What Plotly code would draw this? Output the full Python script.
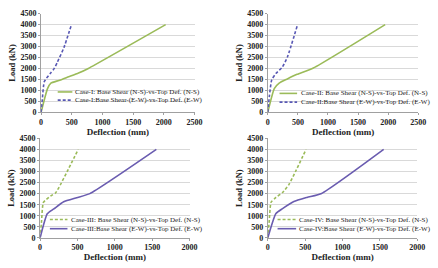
import plotly.graph_objects as go

# ---- data ----
p1_ns_x = [0, 105, 160, 290, 450, 610, 770, 2030]
p1_ns_y = [0, 1080, 1330, 1450, 1620, 1790, 2000, 4000]
p1_ew_x = [0, 20, 53, 149, 213, 266, 372, 495]
p1_ew_y = [0, 600, 1400, 1770, 1990, 2290, 2950, 4000]

p2_ns_x = [0, 108, 189, 325, 487, 757, 1950]
p2_ns_y = [0, 1080, 1330, 1520, 1730, 2020, 4000]
p2_ew_x = [0, 25, 65, 135, 243, 325, 495]
p2_ew_y = [0, 700, 1475, 1770, 2065, 2510, 4000]

p3_ns_x = [0, 20, 44, 140, 206, 271, 359, 510]
p3_ns_y = [0, 800, 1600, 1890, 2030, 2400, 2980, 4000]
p3_ew_x = [0, 96, 184, 315, 490, 665, 1555]
p3_ew_y = [0, 1090, 1310, 1630, 1815, 2000, 4000]

p4_ns_x = [0, 20, 44, 109, 197, 284, 371, 512]
p4_ns_y = [0, 800, 1610, 1830, 2050, 2420, 3000, 4000]
p4_ew_x = [0, 109, 197, 349, 524, 720, 1550]
p4_ew_y = [0, 1100, 1320, 1640, 1830, 2010, 4000]

names = [
    ("Case-I: Base Shear (N-S)-vs-Top Def. (N-S)", "Case-I:Base Shear-(E-W)-vs-Top Def. (E-W)"),
    ("Case-II: Base Shear (N-S)-vs-Top Def. (N-S)", "Case-II:Base Shear (E-W)-vs-Top Def. (E-W)"),
    ("Case-III: Base Shear (N-S)-vs-Top Def. (N-S)", "Case-III:Base Shear (E-W)-vs-Top Def. (E-W)"),
    ("Case-IV: Base Shear (N-S)-vs-Top Def. (N-S)", "Case-IV:Base Shear (E-W)-vs-Top Def. (E-W)"),
]
x_max = [2500, 2500, 2000, 2000]
x_ticks = [
    [0, 500, 1000, 1500, 2000, 2500],
    [0, 500, 1000, 1500, 2000, 2500],
    [0, 500, 1000, 1500, 2000],
    [0, 500, 1000, 1500, 2000],
]
y_ticks = [0, 500, 1000, 1500, 2000, 2500, 3000, 3500, 4000, 4500]

GREEN = "#9BBB59"
BLUE = "#5858B4"
PURPLE = "#6A5CB0"
FONT = "Liberation Serif"
DASH = "3px,2px"

W, H = 438, 268
# pixel boxes: (x0, x1, ytop, ybottom)
boxes = [(40, 197, 10, 112), (272, 426, 10, 112), (39, 192, 139, 242), (272, 425, 139, 242)]
# legend: (line x0, line x1, text x, row1 y, row2 y) in pixels
legend_px = [(57, 72, 73, 91, 99.5), (284, 302, 304, 92.5, 101.5),
             (49, 67, 69, 223, 232.5), (282, 301, 302, 223, 232.5)]

fig = go.Figure()
series = [
    (p1_ns_x, p1_ns_y, GREEN, "solid", p1_ew_x, p1_ew_y, BLUE, DASH),
    (p2_ns_x, p2_ns_y, GREEN, "solid", p2_ew_x, p2_ew_y, BLUE, DASH),
    (p3_ns_x, p3_ns_y, GREEN, DASH, p3_ew_x, p3_ew_y, PURPLE, "solid"),
    (p4_ns_x, p4_ns_y, GREEN, DASH, p4_ew_x, p4_ew_y, PURPLE, "solid"),
]

layout = dict(
    width=W, height=H, margin=dict(l=0, r=0, t=0, b=0),
    paper_bgcolor="white", plot_bgcolor="white",
    font=dict(family=FONT, size=8, color="#222"),
    showlegend=False,
)
shapes, annotations = [], []

for i, (nx, ny, nc, nd, ex, ey, ec, ed) in enumerate(series):
    k = "" if i == 0 else str(i + 1)
    fig.add_trace(go.Scatter(x=nx, y=ny, mode="lines", name=names[i][0],
                             line=dict(color=nc, width=1.6, dash=nd, shape="spline", smoothing=0.5),
                             xaxis="x" + k, yaxis="y" + k))
    fig.add_trace(go.Scatter(x=ex, y=ey, mode="lines", name=names[i][1],
                             line=dict(color=ec, width=1.6, dash=ed, shape="spline", smoothing=0.5),
                             xaxis="x" + k, yaxis="y" + k))
    x0, x1, yt, yb = boxes[i]
    layout["xaxis" + k] = dict(
        domain=[x0 / W, x1 / W], range=[0, x_max[i]], tickvals=x_ticks[i],
        anchor="y" + k, showgrid=False, zeroline=False,
        showline=True, linecolor="#A0A0A0", linewidth=1,
        ticks="outside", ticklen=2, tickcolor="#A0A0A0",
        tickfont=dict(family=FONT, size=8, color="#222", weight="bold"),
        title=dict(text="<b>Deflection (mm)</b>", font=dict(family=FONT, size=9), standoff=2),
    )
    layout["yaxis" + k] = dict(
        domain=[(H - yb) / H, (H - yt) / H], range=[0, 4500], tickvals=y_ticks,
        anchor="x" + k, showgrid=True, gridcolor="#D9D9D9", gridwidth=1, zeroline=False,
        showline=True, linecolor="#A0A0A0", linewidth=1,
        ticks="outside", ticklen=2, tickcolor="#A0A0A0",
        tickfont=dict(family=FONT, size=8, color="#222", weight="bold"),
        title=dict(text="<b>Load (kN)</b>", font=dict(family=FONT, size=8.5), standoff=3),
    )
    lx0, lx1, tx, r1, r2 = legend_px[i]
    for (col, dsh, ry, txt) in [(nc, nd, r1, names[i][0]), (ec, ed, r2, names[i][1])]:
        shapes.append(dict(type="line", xref="paper", yref="paper",
                           x0=lx0 / W, x1=lx1 / W, y0=(H - ry) / H, y1=(H - ry) / H,
                           line=dict(color=col, width=1.6, dash=dsh)))
        annotations.append(dict(xref="paper", yref="paper", x=tx / W, y=(H - ry) / H,
                                xanchor="left", yanchor="middle", showarrow=False,
                                text=txt, font=dict(family=FONT, size=7, color="#222")))

layout["shapes"] = shapes
layout["annotations"] = annotations
fig.update_layout(**layout)
fig.write_html("out.html")
